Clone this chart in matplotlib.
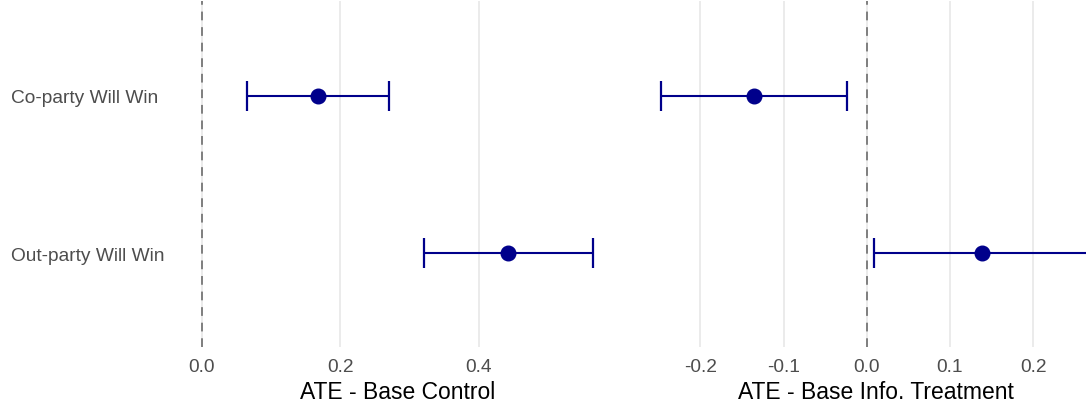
import numpy as np
import matplotlib.pyplot as plt

# data
groups = ['Out-party Will Win', 'Co-party Will Win']   # bottom to top
ctrl_est = [0.443, 0.168]
ctrl_lo = [0.321, 0.065]
ctrl_hi = [0.565, 0.270]
info_est = [0.139, -0.1355]
info_lo = [0.009, -0.247]
info_hi = [0.269, -0.024]

ctrl_ticks = [0.0, 0.2, 0.4]
info_ticks = [-0.2, -0.1, 0.0, 0.1, 0.2]

plt.rcParams['font.family'] = ['Liberation Sans', 'DejaVu Sans']

W, H = 1086, 406
fig = plt.figure(figsize=(W / 100, H / 100), dpi=100)

navy = '#00008B'
grid_col = '#ebebeb'
text_col = '#4d4d4d'


def expand(lo, hi, frac=0.05):
    lo = min(lo + [0.0])
    hi = max(hi + [0.0])
    d = (hi - lo) * frac
    return lo - d, hi + d


def panel(rect, est, lo, hi, ticks, xlabel, show_y):
    ax = fig.add_axes(rect)
    y = np.arange(1, len(est) + 1)
    ax.set_xlim(*expand(lo, hi))
    ax.set_ylim(0.4, len(est) + 0.6)
    ax.grid(axis='x', color=grid_col, linewidth=1.4, zorder=0)
    ax.set_axisbelow(True)
    ax.axvline(0, color='#7f7f7f', linewidth=1.4, linestyle=(0, (4.5, 3.5)), zorder=1)
    err = [np.array(est) - np.array(lo), np.array(hi) - np.array(est)]
    ax.errorbar(est, y, xerr=err, fmt='o', color=navy, markersize=10.5,
                elinewidth=1.5, capsize=11, capthick=1.6, zorder=3)
    ax.set_xticks(ticks)
    ax.set_xticklabels(['%.1f' % t for t in ticks])
    ax.tick_params(axis='x', length=0, pad=7.5, labelsize=13.8, labelcolor=text_col)
    ax.set_yticks(y)
    if show_y:
        ax.set_yticklabels(groups, ha='left')
        ax.tick_params(axis='y', length=0, pad=123.5, labelsize=13.8, labelcolor=text_col)
    else:
        ax.set_yticklabels([])
        ax.tick_params(axis='y', length=0)
    ax.set_xlabel(xlabel, fontsize=16.5, color='black', labelpad=3.5)
    for s in ax.spines.values():
        s.set_visible(False)
    return ax


bottom = (H - 348.4) / H
height = 346.1 / H

# left panel: 0.0 at 201.7 px, 69.25 px per 0.1
xl0, xl1 = expand(ctrl_lo, ctrl_hi)
left_px = 201.7 + xl0 * 692.5
width_px = (xl1 - xl0) * 692.5
panel([left_px / W, bottom, width_px / W, height], ctrl_est, ctrl_lo, ctrl_hi,
      ctrl_ticks, 'ATE - Base Control', True)

# right panel: 0.0 at 866.7 px, 83.2 px per 0.1 (runs past the right edge)
xr0, xr1 = expand(info_lo, info_hi)
left_px = 866.7 + xr0 * 832
width_px = (xr1 - xr0) * 832
panel([left_px / W, bottom, width_px / W, height], info_est, info_lo, info_hi,
      info_ticks, 'ATE - Base Info. Treatment', False)

plt.savefig('out.png', dpi=100)
